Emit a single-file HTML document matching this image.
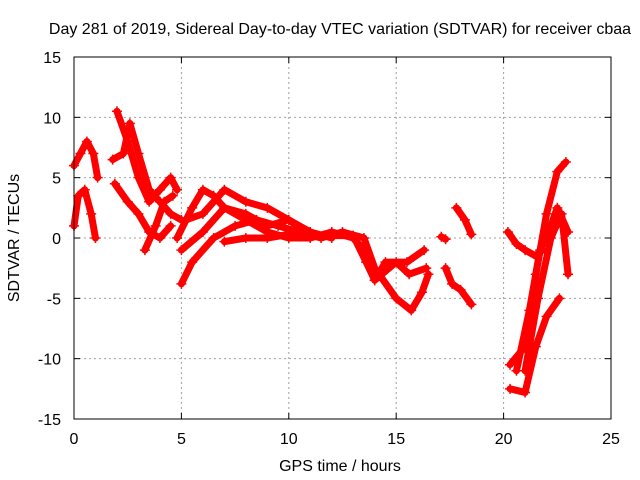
<!DOCTYPE html>
<html><head><meta charset="utf-8"><style>
body{margin:0;background:#fff;}
svg{display:block;font-family:"Liberation Sans",sans-serif;font-size:16px;}
</style></head><body>
<svg id="chart" width="640" height="480">
<rect x="0" y="0" width="640" height="480" fill="#fff"/>
<text x="340" y="34" text-anchor="middle">Day 281 of 2019, Sidereal Day-to-day VTEC variation (SDTVAR) for receiver cbaa</text>
<text x="340" y="471" text-anchor="middle">GPS time / hours</text>
<text x="19" y="238" text-anchor="middle" transform="rotate(-90 19 238)">SDTVAR / TECUs</text>
<g id="grid"></g><g id="ticks"></g><g id="marks"></g>
<rect x="74" y="57" width="537" height="362" fill="none" stroke="#000" stroke-width="1"/>
</svg>
<script>
const xTicks=[0,5,10,15,20,25];
const yTicks=[-15,-10,-5,0,5,10,15];
const track1=[[0,6],[0.3,7],[0.6,8],[0.9,7],[1.1,5]];
const track2=[[0,1],[0.2,3.5],[0.5,4],[0.8,2],[1,0]];
const track3=[[1.8,6.5],[2.3,7],[2.6,9.5],[3,7],[3.5,4],[4,3],[4.5,2],[5,1.5]];
const track4=[[2,10.5],[2.5,8],[3,5],[3.5,3],[4,4],[4.5,5],[4.8,4]];
const track5=[[1.9,4.5],[2.5,3],[3,2],[3.5,0.5],[4,0],[4.5,1]];
const track6=[[3.3,-1],[3.8,1],[4.2,3],[4.6,3.5]];
const track7=[[5,-3.8],[5.5,-2],[6.5,0],[7.5,1],[8.5,1.5],[9.5,1],[10.5,0.5],[11.5,0],[12.5,0.5],[13.5,0],[14,-2.5],[15,-5],[15.7,-6],[16.2,-4.5],[16.5,-3]];
const track8=[[4.8,0],[5.5,2.5],[6,4],[6.5,3.5],[7,2.5],[8,1.5],[9,0.5],[10,0],[11,0],[12,0.5],[13,0],[13.5,-1],[14,-3.5],[14.5,-2],[15.5,-2],[16.3,-1]];
const track9=[[5,-1],[6,0.5],[7,2.5],[8,2],[9,1],[10,1.5],[11,0.5],[12,0]];
const track10=[[5.2,1.5],[6,2],[7,4],[8,3],[9,2.5],[10,1.5],[10.8,0.5]];
const track11=[[7,-0.3],[8,0],[9,0],[10,0.3],[11,0.2],[12,0.2],[13,0.2],[13.6,-2],[14,-3.5],[15,-2],[15.6,-3],[16.4,-2.5]];
const track12=[[17.3,-2.5],[17.6,-3.8],[18,-4.3],[18.5,-5.5]];
const track13=[[17.8,2.5],[18.2,1.5],[18.5,0.3]];
const track14=[[17.1,0.1],[17.3,-0.1]];
const track15=[[20.2,0.5],[20.6,-0.5],[21,-1],[21.5,-1.5],[21.8,-1]];
const track16=[[20.3,-10.5],[21,-9],[21.5,-3],[22,2],[22.5,5.5],[22.9,6.3]];
const track17=[[20.3,-12.5],[21,-12.8],[21.5,-9],[22,-6.5],[22.6,-5]];
const track18=[[20.6,-11],[21.2,-6],[21.7,-1],[22.2,1],[22.5,2.5],[23,0.5]];
const track19=[[21,-11],[21.6,-5],[22.2,0],[22.7,2],[23,-3]];
const tracks=[track1,track2,track3,track4,track5,track6,track7,track8,track9,track10,track11,track12,track13,track14,track15,track16,track17,track18,track19];
const NS="http://www.w3.org/2000/svg";
const X=v=>74+v*537/25, Y=v=>238-v*362/30;
function mk(tag,attrs,parent){const e=document.createElementNS(NS,tag);for(const k in attrs)e.setAttribute(k,attrs[k]);parent.appendChild(e);return e;}
const grid=document.getElementById('grid'),ticks=document.getElementById('ticks'),marks=document.getElementById('marks');
xTicks.forEach(t=>{
  if(t>0&&t<25){const g=mk('line',{x1:X(t),x2:X(t),y1:57,y2:419,stroke:'#a0a0a0','stroke-dasharray':'2,3'},grid);
  
  }
  mk('line',{x1:X(t),x2:X(t),y1:419,y2:413,stroke:'#000'},ticks);
  mk('line',{x1:X(t),x2:X(t),y1:57,y2:63,stroke:'#000'},ticks);
  const l=mk('text',{x:X(t),y:444,'text-anchor':'middle'},ticks);l.textContent=t;
  
  
});
yTicks.forEach(t=>{
  if(t>-15&&t<15){const g=mk('line',{x1:74,x2:611,y1:Y(t),y2:Y(t),stroke:'#a0a0a0','stroke-dasharray':'2,3'},grid);
  
  }
  mk('line',{x1:74,x2:80,y1:Y(t),y2:Y(t),stroke:'#000'},ticks);
  mk('line',{x1:611,x2:605,y1:Y(t),y2:Y(t),stroke:'#000'},ticks);
  const l=mk('text',{x:61,y:Y(t)+6,'text-anchor':'end'},ticks);l.textContent=t;
  
  
});
tracks.forEach(tr=>{
  const pl=mk('polyline',{points:tr.map(p=>X(p[0])+','+Y(p[1])).join(' '),fill:'none',stroke:'#ff0000','stroke-width':7,'stroke-linejoin':'round','stroke-linecap':'round'},marks);
  
  
  tr.forEach(p=>{
    const m=mk('path',{d:`M${X(p[0])-5},${Y(p[1])}h10M${X(p[0])},${Y(p[1])-5}v10`,stroke:'#ff0000','stroke-width':1.5},marks);
    
    
  });
});
</script>
</body></html>
